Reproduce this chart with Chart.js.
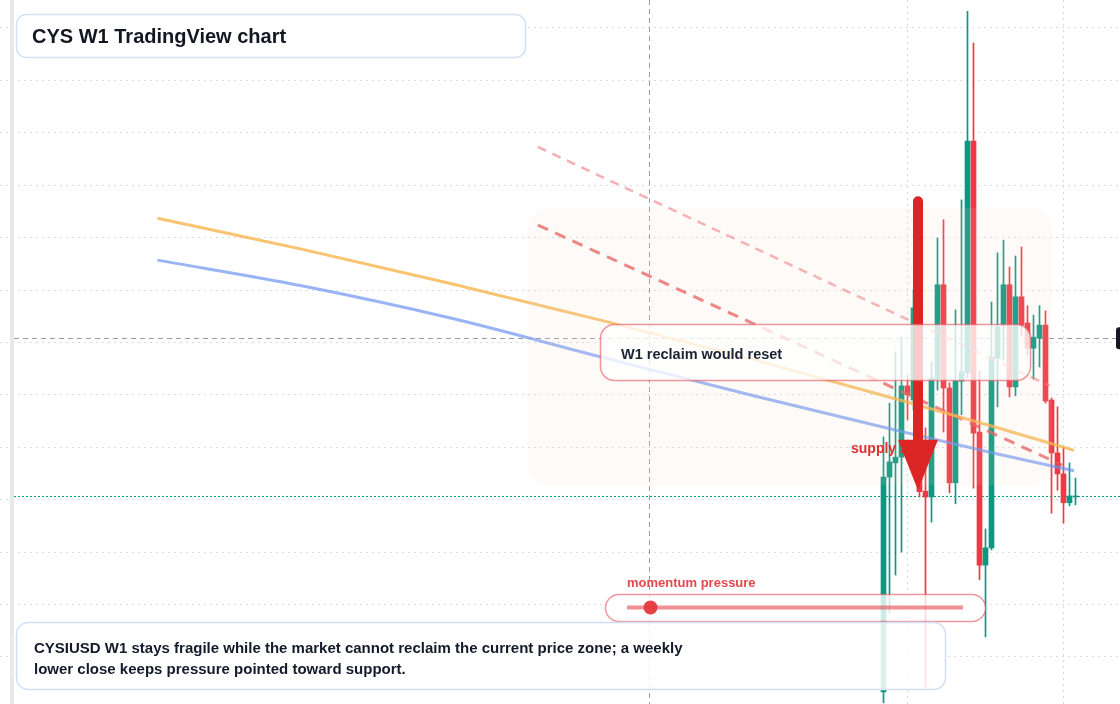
<!DOCTYPE html>
<html><head><meta charset="utf-8">
<script src="https://cdn.jsdelivr.net/npm/chart.js@4.4.1/dist/chart.umd.min.js"></script>
<style>html,body{margin:0;padding:0;background:#fff;overflow:hidden}#wrap{width:1120px;height:704px;position:relative}</style>
</head><body><div id="wrap"><canvas id="c" width="1120" height="704"></canvas></div>
<script>
// ---- data (weekly candles, index 0 = first visible week) ----
const weekIdx = [0,1,2,3,4,5,6,7,8,9,10,11,12,13,14,15,16,17,18,19,20,21,22,23,24,25,26,27,28,29,30,31,32];
const opens  = [0.1733,0.2143,0.2170,0.2181,0.2317,0.2290,0.2462,0.2116,0.2105,0.2330,0.2510,0.2313,0.2132,0.2326,0.2342,0.2784,0.2229,0.1975,0.2008,0.2370,0.2433,0.2510,0.2315,0.2487,0.2437,0.2389,0.2408,0.2433,0.2290,0.2189,0.2149,0.2094,0.2105];
const highs  = [0.2220,0.2284,0.2382,0.2410,0.2338,0.2500,0.2611,0.2237,0.2363,0.2599,0.2634,0.2323,0.2462,0.2672,0.3032,0.2971,0.2345,0.2044,0.2477,0.2571,0.2595,0.2544,0.2565,0.2582,0.2470,0.2452,0.2470,0.2460,0.2294,0.2277,0.2200,0.2170,0.2141];
const lows   = [0.1712,0.1884,0.1956,0.2000,0.2252,0.2271,0.2105,0.1742,0.2057,0.2309,0.2229,0.2113,0.2092,0.2262,0.2332,0.2122,0.1947,0.1838,0.2004,0.2277,0.2366,0.2296,0.2298,0.2414,0.2376,0.2330,0.2353,0.2284,0.2074,0.2118,0.2055,0.2088,0.2090];
const closes = [0.2143,0.2172,0.2181,0.2317,0.2300,0.2466,0.2115,0.2105,0.2332,0.2510,0.2313,0.2132,0.2326,0.2344,0.2784,0.2227,0.1975,0.2008,0.2372,0.2429,0.2510,0.2315,0.2487,0.2433,0.2389,0.2410,0.2433,0.2288,0.2189,0.2149,0.2094,0.2107,0.2107];

// moving-average style curves (x = week index, y = price)
const emaFastIdx   = [-121,-97,-72,-47,-22,3,19,31.75];
const emaFastPrice = [0.2637,0.2578,0.2512,0.2442,0.2368,0.2289,0.2237,0.2194];
const emaSlowIdx   = [-121,-97,-72,-47,-22,3,19,31.75];
const emaSlowPrice = [0.2557,0.2508,0.2446,0.2372,0.2299,0.2230,0.2187,0.2155];

// descending trend lines
const trendMainIdx   = [-57.6,29.75];
const trendMainPrice = [0.2624,0.2166];
const trendLightIdx   = [-57.6,27.75];
const trendLightPrice = [0.2773,0.2317];

// grid / axis values
const yGridPrices = [0.30,0.29,0.28,0.27,0.26,0.25,0.24,0.23,0.22,0.21,0.20,0.19,0.18];
const xGridIdx = [4,30];
const xRange = [-147.25,39.4167];
const yRange = [0.1709924,0.3053435];

// annotations
const crosshairIdx = -39.08;
const crosshairPrice = 0.2408;
const supplyZoneIdx = [-59.4,28.1];
const supplyZonePrice = [0.2657,0.2128];
const arrowIdx = 5.75;
const arrowPrice = [0.2679,0.2214,0.2118]; // top, head base, tip
const momentum = 0.07;

const titleText = 'CYS W1 TradingView chart';
const boxText = 'W1 reclaim would reset';
const supplyText = 'supply zone';
const momentumText = 'momentum pressure';
const noteLines = ['CYSIUSD W1 stays fragile while the market cannot reclaim the current price zone; a weekly','lower close keeps pressure pointed toward support.'];

const GREEN = '#089981', RED = '#F23645';
const FONT = "'Liberation Sans', Arial, Helvetica, sans-serif";
const candleColors = weekIdx.map((_, i) => closes[i] >= opens[i] ? GREEN : RED);

function rr(ctx, x, y, w, h, r) {
  ctx.beginPath();
  ctx.moveTo(x + r, y);
  ctx.arcTo(x + w, y, x + w, y + h, r);
  ctx.arcTo(x + w, y + h, x, y + h, r);
  ctx.arcTo(x, y + h, x, y, r);
  ctx.arcTo(x, y, x + w, y, r);
  ctx.closePath();
}

const overlay = {
  id: 'overlay',
  beforeDatasetsDraw(chart) {
    const { ctx, scales: { x, y } } = chart;
    ctx.save();
    ctx.lineWidth = 1;
    ctx.setLineDash([5, 4]);
    ctx.strokeStyle = 'rgba(130,133,144,0.8)';
    const cx = Math.round(x.getPixelForValue(crosshairIdx)) + 0.5;
    ctx.beginPath(); ctx.moveTo(cx, 0); ctx.lineTo(cx, 704); ctx.stroke();
    const cy = Math.round(y.getPixelForValue(crosshairPrice)) + 0.5;
    ctx.beginPath(); ctx.moveTo(14, cy); ctx.lineTo(1116, cy); ctx.stroke();
    ctx.setLineDash([2, 2]);
    ctx.strokeStyle = GREEN;
    const py = Math.round(y.getPixelForValue(closes[closes.length - 1])) + 0.5;
    ctx.beginPath(); ctx.moveTo(14, py); ctx.lineTo(1120, py); ctx.stroke();
    ctx.restore();
  },
  afterDatasetsDraw(chart) {
    const { ctx, scales: { x, y } } = chart;
    ctx.save();
    // supply zone shading
    const zx0 = x.getPixelForValue(supplyZoneIdx[0]), zx1 = x.getPixelForValue(supplyZoneIdx[1]);
    const zy0 = y.getPixelForValue(supplyZonePrice[0]), zy1 = y.getPixelForValue(supplyZonePrice[1]);
    rr(ctx, zx0, zy0, zx1 - zx0, zy1 - zy0, 22);
    ctx.fillStyle = 'rgba(240,215,195,0.12)';
    ctx.fill();
    // supply label
    const ax = x.getPixelForValue(arrowIdx);
    const aTop = y.getPixelForValue(arrowPrice[0]);
    const aBase = y.getPixelForValue(arrowPrice[1]);
    const aTip = y.getPixelForValue(arrowPrice[2]);
    ctx.font = 'bold 14px ' + FONT;
    ctx.fillStyle = '#e03131';
    ctx.textBaseline = 'alphabetic';
    ctx.fillText(supplyText, 851, 453);
    // arrow
    ctx.strokeStyle = '#dc2626';
    ctx.lineWidth = 10;
    ctx.lineCap = 'round';
    ctx.beginPath(); ctx.moveTo(ax, aTop + 5); ctx.lineTo(ax, aBase + 4); ctx.stroke();
    ctx.fillStyle = '#dc2626';
    ctx.beginPath(); ctx.moveTo(ax - 20, aBase); ctx.lineTo(ax + 20, aBase); ctx.lineTo(ax, aTip); ctx.closePath(); ctx.fill();
    // W1 box
    rr(ctx, 600.5, 324.5, 430, 56, 14);
    ctx.fillStyle = 'rgba(255,255,255,0.77)';
    ctx.fill();
    ctx.lineWidth = 1.5;
    ctx.strokeStyle = 'rgba(232,80,90,0.6)';
    ctx.stroke();
    ctx.fillStyle = '#1b2233';
    ctx.font = 'bold 14.5px ' + FONT;
    ctx.fillText(boxText, 621, 359);
    ctx.restore();
  },
  afterDraw(chart) {
    const { ctx } = chart;
    ctx.save();
    // left strip
    ctx.fillStyle = '#e8e8e8';
    ctx.fillRect(10, 0, 4, 704);
    // black price label at crosshair
    const cy = chart.scales.y.getPixelForValue(crosshairPrice);
    rr(ctx, 1116, cy - 11, 20, 22, 3);
    ctx.fillStyle = '#131722';
    ctx.fill();
    // momentum
    ctx.font = 'bold 13px ' + FONT;
    ctx.fillStyle = '#e5484d';
    ctx.fillText(momentumText, 627, 587);
    rr(ctx, 605.5, 594.5, 380, 27, 13.5);
    ctx.fillStyle = 'rgba(255,255,255,0.8)';
    ctx.fill();
    ctx.lineWidth = 1.5;
    ctx.strokeStyle = 'rgba(232,80,90,0.6)';
    ctx.stroke();
    ctx.strokeStyle = 'rgba(229,72,77,0.6)';
    ctx.lineWidth = 4;
    ctx.beginPath(); ctx.moveTo(627, 607.5); ctx.lineTo(963, 607.5); ctx.stroke();
    ctx.fillStyle = 'rgba(229,57,60,0.95)';
    ctx.beginPath(); ctx.arc(627 + momentum * (963 - 627), 607.5, 7, 0, Math.PI * 2); ctx.fill();
    // bottom note box
    rr(ctx, 16.5, 622.5, 929, 67, 12);
    ctx.fillStyle = 'rgba(255,255,255,0.85)';
    ctx.fill();
    ctx.lineWidth = 1.5;
    ctx.strokeStyle = '#d0dff7';
    ctx.stroke();
    ctx.fillStyle = '#131a2a';
    ctx.font = 'bold 15px ' + FONT;
    ctx.fillText(noteLines[0], 34, 653);
    ctx.fillText(noteLines[1], 34, 674);
    // title box
    rr(ctx, 16.5, 14.5, 509, 43, 10);
    ctx.fillStyle = '#ffffff';
    ctx.fill();
    ctx.strokeStyle = '#d4e2f6';
    ctx.stroke();
    ctx.fillStyle = '#131722';
    ctx.font = 'bold 20px ' + FONT;
    ctx.fillText(titleText, 32, 43);
    ctx.restore();
  }
};

const pts = (xs, ys) => xs.map((v, i) => ({ x: v, y: ys[i] }));

new Chart(document.getElementById('c'), {
  type: 'bar',
  data: {
    datasets: [
      { type: 'line', data: pts(emaFastIdx, emaFastPrice), borderColor: 'rgba(247,178,70,0.78)', borderWidth: 3, pointRadius: 0, cubicInterpolationMode: 'monotone', order: 1 },
      { type: 'line', data: pts(emaSlowIdx, emaSlowPrice), borderColor: 'rgba(105,145,240,0.68)', borderWidth: 3, pointRadius: 0, cubicInterpolationMode: 'monotone', order: 2 },
      { type: 'line', data: pts(trendMainIdx, trendMainPrice), borderColor: 'rgba(232,85,85,0.78)', borderWidth: 3, borderDash: [11, 8], pointRadius: 0, order: 3 },
      { type: 'line', data: pts(trendLightIdx, trendLightPrice), borderColor: 'rgba(240,120,130,0.6)', borderWidth: 2.5, borderDash: [9, 7], pointRadius: 0, order: 4 },
      { type: 'bar', data: weekIdx.map((w, i) => ({ x: w, y: [opens[i], closes[i]] })), backgroundColor: candleColors, barThickness: 5, grouped: false, order: 5 },
      { type: 'bar', data: weekIdx.map((w, i) => ({ x: w, y: [lows[i], highs[i]] })), backgroundColor: candleColors, barThickness: 1, grouped: false, order: 6 }
    ]
  },
  options: {
    responsive: false,
    animation: false,
    devicePixelRatio: 1,
    layout: { padding: 0 },
    plugins: { legend: { display: false }, tooltip: { enabled: false } },
    scales: {
      x: {
        type: 'linear', min: xRange[0], max: xRange[1], offset: false,
        afterBuildTicks: s => { s.ticks = xGridIdx.map(v => ({ value: v })); },
        ticks: { display: false },
        grid: { color: 'rgba(190,195,205,0.6)', drawTicks: false, lineWidth: 1, offset: false },
        border: { display: false, dash: [2, 4] }
      },
      y: {
        type: 'linear', min: yRange[0], max: yRange[1],
        afterBuildTicks: s => { s.ticks = yGridPrices.map(v => ({ value: v })); },
        ticks: { display: false },
        grid: { color: 'rgba(190,195,205,0.6)', drawTicks: false, lineWidth: 1 },
        border: { display: false, dash: [2, 4] }
      }
    }
  },
  plugins: [overlay]
});
</script>
</body></html>
